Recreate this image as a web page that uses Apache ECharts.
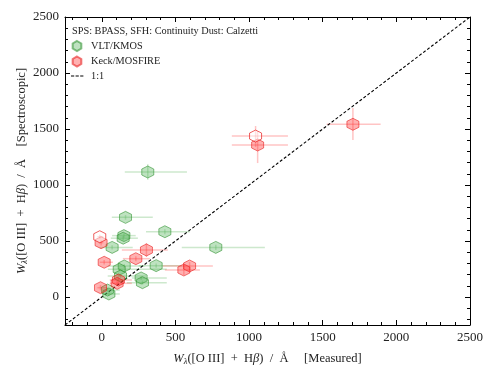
<!DOCTYPE html>
<html>
<head>
<meta charset="utf-8">
<script src="https://cdn.jsdelivr.net/npm/echarts@6/dist/echarts.min.js"></script>
<style>
html, body { margin: 0; padding: 0; background: #fff; }
#chart { width: 498px; height: 374px; }
</style>
</head>
<body>
<div id="chart"></div>
<script>
// each row: x, y, x low, x high, y low, y high
var kmos = [
    [312, 1116, 156, 578, 1046, 1186],
    [161, 711, 68, 346, 690, 732],
    [428, 583, 300, 598, 560, 606],
    [150, 548, 70, 230, 530, 566],
    [145, 525, 61, 245, 505, 545],
    [70, 443, -14, 210, 425, 461],
    [774, 443, 543, 1107, 420, 466],
    [152, 277, 41, 290, 260, 294],
    [369, 280, 250, 543, 262, 298],
    [118, 247, 41, 441, 230, 264],
    [127, 188, 40, 300, 170, 206],
    [267, 170, 204, 441, 152, 188],
    [276, 128, 170, 441, 110, 146],
    [39, 62, 0, 122, 45, 79],
    [48, 27, 10, 122, 10, 44]
];
var mosfire = [
    [-5, 485, -20, 10, 460, 510],
    [303, 420, 136, 448, 357, 482],
    [231, 342, 143, 326, 320, 364],
    [16, 310, -14, 75, 290, 330],
    [596, 277, 414, 754, 240, 312],
    [557, 241, 428, 666, 196, 286],
    [113, 152, 54, 204, 120, 184],
    [104, 122, 54, 204, 100, 144],
    [-9, 83, -30, 40, 60, 106],
    [1058, 1357, 883, 1264, 1196, 1480],
    [1705, 1542, 1527, 1893, 1402, 1687]
];
var mosfireOpen = [
    [-14, 538, -30, 10, 520, 556],
    [1044, 1437, 883, 1264, 1340, 1527]
];
var oneToOne = [[-250, -250], [2500, 2500]];
var axisMin = -250, axisMax = 2500;
var majorTicks = [0, 500, 1000, 1500, 2000, 2500];
var minorTicks = [-200, -100, 100, 200, 300, 400, 600, 700, 800, 900, 1100, 1200, 1300, 1400,
    1600, 1700, 1800, 1900, 2100, 2200, 2300, 2400];

var hexagon = 'path://M0,-1L0.866,-0.5L0.866,0.5L0,1L-0.866,0.5L-0.866,-0.5Z';
var dashIcon = 'path://M0,0h0.01v0.01h-0.01z M14,10h0.01v0.01h-0.01z M1,4.4h3.2v1.2h-3.2z M5.6,4.4h3.2v1.2h-3.2z M10.2,4.4h3.2v1.2h-3.2z';
var serif = '"Liberation Serif", "DejaVu Serif", serif';

function errorBars(color) {
    return function (params, api) {
        var a = api.coord([api.value(2), api.value(1)]);
        var b = api.coord([api.value(3), api.value(1)]);
        var c = api.coord([api.value(0), api.value(4)]);
        var d = api.coord([api.value(0), api.value(5)]);
        var style = { stroke: color, lineWidth: 1.5 };
        return {
            type: 'group',
            children: [
                { type: 'line', shape: { x1: a[0], y1: a[1], x2: b[0], y2: b[1] }, style: style },
                { type: 'line', shape: { x1: c[0], y1: c[1], x2: d[0], y2: d[1] }, style: style }
            ]
        };
    };
}

function makeAxis(pos, showLabel, ticks, len, showLine) {
    return {
        type: 'value',
        position: pos,
        min: axisMin,
        max: axisMax,
        splitLine: { show: false },
        axisLine: { show: showLine, onZero: false, lineStyle: { color: '#000', width: 1 } },
        axisTick: { show: true, inside: true, length: len, customValues: ticks, lineStyle: { color: '#000' } },
        axisLabel: {
            show: showLabel,
            customValues: ticks,
            color: '#222',
            fontFamily: serif,
            fontSize: 13,
            margin: 6,
            formatter: function (v) { return String(v); }
        }
    };
}

var nameStyle = {
    color: '#222', fontFamily: serif, fontSize: 12.5,
    rich: {
        i: { fontStyle: 'italic', fontFamily: serif, fontSize: 12.5, color: '#222' },
        s: { fontStyle: 'italic', fontFamily: serif, fontSize: 8.5, color: '#222', verticalAlign: 'bottom', padding: [6, 0, 0, 0] }
    }
};

var xBottom = makeAxis('bottom', true, majorTicks, 5, true);
xBottom.name = '{i|W}{s|λ}([O III]  +  H{i|β})  /  Å     [Measured]';
xBottom.nameLocation = 'middle';
xBottom.nameGap = 26;
xBottom.nameTextStyle = nameStyle;

var yLeft = makeAxis('left', true, majorTicks, 5, true);
yLeft.name = '{i|W}{s|λ}([O III]  +  H{i|β})  /  Å    [Spectroscopic]';
yLeft.nameLocation = 'middle';
yLeft.nameGap = 36;
yLeft.nameMoveOverlap = false;
yLeft.nameTextStyle = nameStyle;

var chart = echarts.init(document.getElementById('chart'));
chart.setOption({
    animation: false,
    backgroundColor: '#fff',
    grid: { left: 65, right: 28, top: 17, bottom: 49, containLabel: false, outerBoundsMode: 'none' },
    xAxis: [
        xBottom,
        makeAxis('top', false, majorTicks, 5, true),
        makeAxis('bottom', false, minorTicks, 3, false),
        makeAxis('top', false, minorTicks, 3, false)
    ],
    yAxis: [
        yLeft,
        makeAxis('right', false, majorTicks, 5, true),
        makeAxis('left', false, minorTicks, 3, false),
        makeAxis('right', false, minorTicks, 3, false)
    ],
    graphic: [{
        type: 'text',
        left: 72,
        top: 26,
        style: { text: 'SPS: BPASS, SFH: Continuity Dust: Calzetti', fontFamily: serif, fontSize: 10.3, fill: '#222' }
    }],
    legend: {
        left: 70,
        top: 40,
        padding: 0,
        orient: 'vertical',
        itemWidth: 14,
        itemHeight: 10,
        itemGap: 3.5,
        textStyle: { fontFamily: serif, fontSize: 10.3, color: '#222', padding: [0, 0, 0, 2] },
        data: [
            { name: 'VLT/KMOS', icon: hexagon },
            { name: 'Keck/MOSFIRE', icon: hexagon },
            { name: '1:1', icon: dashIcon }
        ]
    },
    series: [
        {
            name: 'VLT/KMOS bars',
            type: 'custom',
            renderItem: errorBars('rgba(90, 180, 90, 0.3)'),
            data: kmos,
            z: 1,
            silent: true
        },
        {
            name: 'Keck/MOSFIRE bars',
            type: 'custom',
            renderItem: errorBars('rgba(255, 60, 60, 0.3)'),
            data: mosfire.concat(mosfireOpen),
            z: 1,
            silent: true
        },
        {
            name: '1:1',
            type: 'line',
            data: oneToOne,
            symbol: 'none',
            lineStyle: { color: '#000', type: [3, 2], width: 1.1 },
            itemStyle: { color: '#000' },
            z: 2
        },
        {
            name: 'VLT/KMOS',
            type: 'scatter',
            data: kmos,
            symbol: hexagon,
            symbolSize: 12,
            itemStyle: { color: 'rgba(76, 175, 80, 0.45)', borderColor: 'rgba(40, 140, 40, 0.7)', borderWidth: 1 },
            z: 3
        },
        {
            name: 'Keck/MOSFIRE',
            type: 'scatter',
            data: mosfire,
            symbol: hexagon,
            symbolSize: 12,
            itemStyle: { color: 'rgba(255, 40, 40, 0.45)', borderColor: 'rgba(230, 20, 20, 0.7)', borderWidth: 1 },
            z: 3
        },
        {
            name: 'Keck/MOSFIRE',
            type: 'scatter',
            data: mosfireOpen,
            symbol: hexagon,
            symbolSize: 12,
            itemStyle: { color: 'rgba(255, 255, 255, 0.6)', borderColor: 'rgba(230, 20, 20, 0.85)', borderWidth: 1 },
            z: 3
        }
    ]
});
</script>
</body>
</html>
